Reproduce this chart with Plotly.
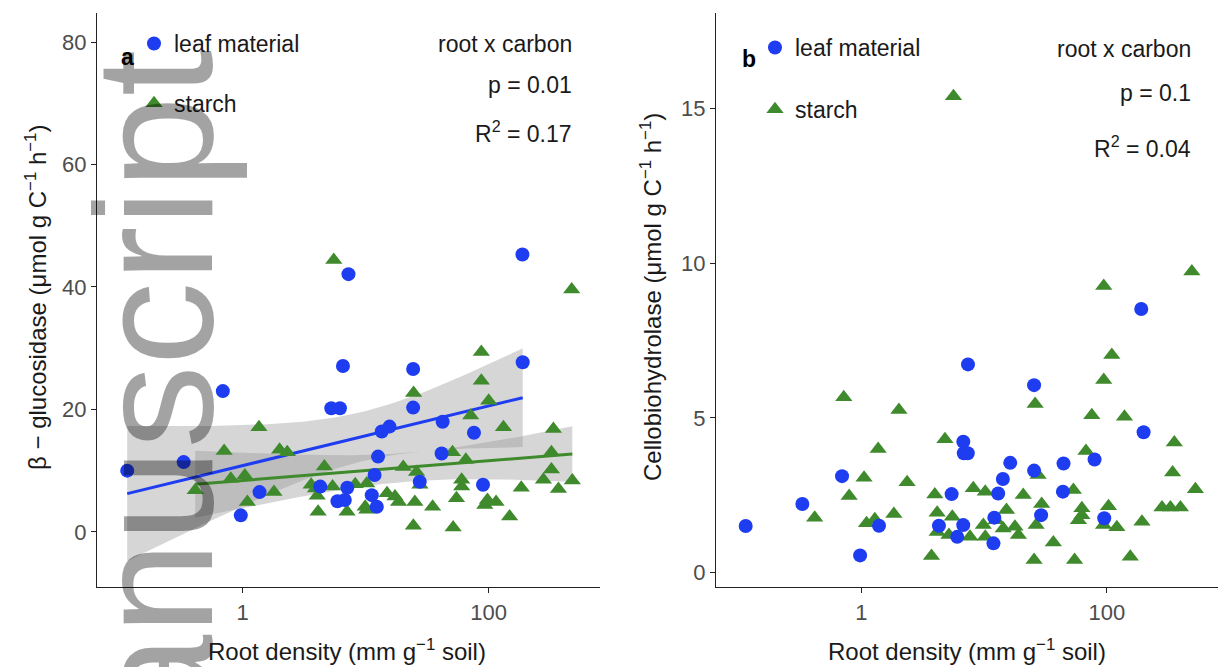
import numpy as np
import plotly.graph_objects as go

# ---------------- data ----------------
# Panel a: beta-glucosidase vs root density
A_LEAF_X = [0.115, 0.331, 0.689, 0.964, 1.37, 6.53, 5.25, 6.17, 4.27, 5.89, 6.76, 7.08,
            24.3, 189, 24.3, 13.5, 15.6, 42.2, 75.9, 12.6, 41.4, 11.8, 27.5, 89.9,
            11.2, 12.3, 188, 7.24]
A_LEAF_Y = [10.0, 11.4, 23.0, 2.7, 6.5, 27.1, 20.2, 20.2, 7.4, 5.0, 5.2, 7.2,
            26.6, 27.7, 20.3, 16.4, 17.2, 18.0, 16.2, 12.3, 12.8, 9.3, 8.2, 7.7,
            6.0, 4.1, 45.3, 42.1]
A_STARCH_X = [1.355, 0.706, 1.995, 2.30, 0.80, 1.04, 0.411, 1.09, 1.795, 4.61, 3.60, 3.90,
              5.38, 4.03, 4.10, 7.05, 87.1, 87.1, 24.5, 100, 71.4, 131.8, 335.7, 323.6,
              50.8, 65.2, 323.6, 278.6, 478.6, 369, 184, 60.3, 60.3, 20.2, 25.9, 27.6,
              10.2, 8.22, 14.9, 17.3, 18.5, 25.1, 35.0, 54.7, 92.9, 114.8, 97.7, 147.9,
              24.4, 51.4, 9.9, 10.2, 5.50, 473]
A_STARCH_Y = [17.1, 13.2, 13.4, 13.0, 8.7, 9.2, 6.8, 4.9, 6.5, 10.7, 7.7, 7.1,
              7.4, 5.9, 3.3, 3.3, 29.4, 24.7, 22.7, 21.4, 19.0, 17.1, 16.8, 13.0,
              13.0, 11.8, 10.2, 8.5, 8.4, 7.0, 7.2, 8.5, 7.4, 10.6, 9.8, 7.7,
              7.9, 7.8, 6.3, 5.8, 4.9, 4.9, 4.1, 5.5, 4.4, 4.9, 5.2, 2.5,
              1.0, 0.7, 4.1, 3.6, 44.4, 39.6]

# Panel b: cellobiohydrolase vs root density
B_LEAF_X = [0.114, 0.330, 0.695, 0.975, 1.39, 5.43, 4.28, 6.03, 6.75, 6.76, 6.82, 7.35,
            7.38, 25.5, 199, 16.3, 25.5, 44.3, 79.3, 14.2, 13.0, 43.8, 29.1, 95.1,
            12.1, 11.9, 190.5]
B_LEAF_Y = [1.51, 2.22, 3.12, 0.56, 1.52, 2.54, 1.52, 1.16, 1.54, 4.23, 3.86, 3.86,
            6.73, 6.06, 4.54, 3.55, 3.30, 3.53, 3.66, 3.03, 2.56, 2.62, 1.86, 1.76,
            1.78, 0.95, 8.52]
B_STARCH_X = [0.718, 2.02, 1.368, 1.05, 0.794, 0.416, 1.10, 1.285, 1.837, 2.355, 4.79, 3.96,
              4.14, 5.50, 4.14, 5.16, 3.72, 94.2, 109.6, 26.0, 75.3, 139, 354, 67.5,
              343, 526, 281, 329, 397, 193, 155, 103, 120.5, 93.8, 62.5, 62.5,
              58.6, 53.3, 54.5, 36.6, 25.5, 29.4, 26.5, 20.8, 15.2, 17.8, 19.0, 14.3,
              10.2, 8.15, 9.84, 10.2, 7.66, 12.5, 5.62, 94.2, 492, 27.5]
B_STARCH_Y = [5.67, 5.26, 4.00, 3.07, 2.48, 1.78, 1.60, 1.73, 1.90, 2.92, 4.31, 2.53,
              1.94, 1.81, 1.32, 1.22, 0.54, 6.23, 7.03, 5.45, 5.09, 5.04, 4.21, 3.93,
              3.24, 2.70, 2.11, 2.11, 2.11, 1.65, 0.52, 2.15, 1.47, 1.54, 2.08, 1.86,
              1.70, 2.67, 0.41, 0.98, 0.41, 2.22, 1.54, 2.51, 2.03, 1.49, 1.22, 1.43,
              2.62, 2.73, 1.54, 1.16, 1.16, 1.70, 15.39, 9.26, 9.73, 3.16]

X_TICKS = [1, 100]
X_TICK_TEXT = ["1", "100"]
A_Y_TICKS = [0, 20, 40, 60, 80]
B_Y_TICKS = [0, 5, 10, 15]
STATS_A = ["root x carbon", "p = 0.01", "R<sup>2</sup> = 0.17"]
STATS_B = ["root x carbon", "p = 0.1", "R<sup>2</sup> = 0.04"]

# ---------------- styles ----------------
FONT = "Liberation Sans, Arial, Helvetica, sans-serif"
BLUE = "#1e3cf0"
GREEN = "#3f8a2c"
BAND = "rgba(153,153,153,0.4)"
TXT = "#1a1a1a"
TICK_TXT = "#4d4d4d"
W, H = 1221, 667


def t975(df):
    z = 1.959964
    g1 = (z ** 3 + z) / 4
    g2 = (5 * z ** 5 + 16 * z ** 3 + 3 * z) / 96
    g3 = (3 * z ** 7 + 19 * z ** 5 + 17 * z ** 3 - 15 * z) / 384
    return z + g1 / df + g2 / df ** 2 + g3 / df ** 3


def lm_band(x, y, n=100):
    lx = np.log10(np.asarray(x, float))
    y = np.asarray(y, float)
    b, a = np.polyfit(lx, y, 1)
    resid = y - (a + b * lx)
    k = len(lx)
    s = np.sqrt(np.sum(resid ** 2) / (k - 2))
    mx = lx.mean()
    sxx = np.sum((lx - mx) ** 2)
    g = np.linspace(lx.min(), lx.max(), n)
    fit = a + b * g
    se = s * np.sqrt(1.0 / k + (g - mx) ** 2 / sxx)
    t = t975(k - 2)
    return 10 ** g, fit, fit - t * se, fit + t * se


fig = go.Figure()

# confidence bands (panel a)
fits = []
for xs, ys, col in [(A_LEAF_X, A_LEAF_Y, BLUE), (A_STARCH_X, A_STARCH_Y, GREEN)]:
    gx, fit, lo, hi = lm_band(xs, ys)
    fits.append((gx, fit, col))
    fig.add_trace(go.Scatter(
        x=np.concatenate([gx, gx[::-1]]), y=np.concatenate([hi, lo[::-1]]),
        fill="toself", fillcolor=BAND, line=dict(width=0), mode="lines",
        hoverinfo="skip", showlegend=False, xaxis="x", yaxis="y"))
for gx, fit, col in fits:
    fig.add_trace(go.Scatter(x=gx, y=fit, mode="lines", line=dict(color=col, width=3),
                             hoverinfo="skip", showlegend=False, xaxis="x", yaxis="y"))

# points
for xs, ys, xa, ya, lg in [(A_STARCH_X, A_STARCH_Y, "x", "y", "legend"),
                           (B_STARCH_X, B_STARCH_Y, "x2", "y2", "legend2")]:
    fig.add_trace(go.Scatter(x=xs, y=ys, mode="markers", name="starch",
                             marker=dict(symbol="triangle-up", size=15, color=GREEN),
                             legend=lg, legendgroup=lg + "s", legendrank=2,
                             xaxis=xa, yaxis=ya))
for xs, ys, xa, ya, lg in [(A_LEAF_X, A_LEAF_Y, "x", "y", "legend"),
                           (B_LEAF_X, B_LEAF_Y, "x2", "y2", "legend2")]:
    fig.add_trace(go.Scatter(x=xs, y=ys, mode="markers", name="leaf material",
                             marker=dict(symbol="circle", size=14, color=BLUE),
                             legend=lg, legendgroup=lg + "l", legendrank=1,
                             xaxis=xa, yaxis=ya))

axis_common = dict(showline=True, linecolor="#222222", linewidth=1.4, ticks="outside",
                   ticklen=5, tickwidth=1.3, tickcolor="#222222", showgrid=False,
                   zeroline=False, tickfont=dict(size=22, color=TICK_TXT, family=FONT),
                   automargin=False, mirror=False)

yb0, yb1 = (H - 587) / H, (H - 12.7) / H

fig.update_layout(
    width=W, height=H, autosize=False,
    margin=dict(l=0, r=0, t=0, b=0),
    paper_bgcolor="white", plot_bgcolor="rgba(0,0,0,0)",
    font=dict(family=FONT, color=TXT),
    template="none",
    xaxis=dict(domain=[97 / W, 600 / W], type="log", range=[-1.185, 2.905],
               tickvals=X_TICKS, ticktext=X_TICK_TEXT, anchor="y", **axis_common),
    yaxis=dict(domain=[yb0, yb1], range=[-9.0, 84.8], tickvals=A_Y_TICKS,
               anchor="x", **axis_common),
    xaxis2=dict(domain=[716 / W, 1218 / W], type="log", range=[-1.185, 2.905],
                tickvals=X_TICKS, ticktext=X_TICK_TEXT, anchor="y2", **axis_common),
    yaxis2=dict(domain=[yb0, yb1], range=[-0.46, 18.09], tickvals=B_Y_TICKS,
                anchor="x2", **axis_common),
    legend=dict(x=134 / W, y=1 - 22 / H, xanchor="left", yanchor="top",
                bgcolor="rgba(0,0,0,0)", font=dict(size=23, color=TXT, family=FONT),
                tracegroupgap=27, itemsizing="trace", traceorder="grouped"),
    legend2=dict(x=755 / W, y=1 - 26 / H, xanchor="left", yanchor="top",
                 bgcolor="rgba(0,0,0,0)", font=dict(size=23, color=TXT, family=FONT),
                 tracegroupgap=29, itemsizing="trace", traceorder="grouped"),
)

TITLE_SIZE = 24
ann = []
# watermark
ann.append(dict(text="manuscript", x=153 / W, y=1 - 458.5 / H, xref="paper", yref="paper",
                showarrow=False, textangle=-90, xanchor="center", yanchor="middle",
                font=dict(size=167, family=FONT, color="rgba(0,0,0,0.36)")))
# axis titles
ann.append(dict(text="Root density (mm g<sup>\u22121</sup> soil)", x=347 / W, y=1 - 650 / H,
                xref="paper", yref="paper", showarrow=False, xanchor="center", yanchor="middle",
                font=dict(size=TITLE_SIZE, color=TXT)))
ann.append(dict(text="Root density (mm g<sup>\u22121</sup> soil)", x=967 / W, y=1 - 650 / H,
                xref="paper", yref="paper", showarrow=False, xanchor="center", yanchor="middle",
                font=dict(size=TITLE_SIZE, color=TXT)))
ann.append(dict(text="\u03b2 \u2212 glucosidase (\u03bcmol g C<sup>\u22121</sup> h<sup>\u22121</sup>)",
                x=36 / W, y=1 - 298 / H, xref="paper", yref="paper", showarrow=False,
                textangle=-90, xanchor="center", yanchor="middle",
                font=dict(size=TITLE_SIZE, color=TXT)))
ann.append(dict(text="Cellobiohydrolase (\u03bcmol g C<sup>\u22121</sup> h<sup>\u22121</sup>)",
                x=651 / W, y=1 - 297 / H, xref="paper", yref="paper", showarrow=False,
                textangle=-90, xanchor="center", yanchor="middle",
                font=dict(size=TITLE_SIZE, color=TXT)))
# panel letters
ann.append(dict(text="<b>a</b>", x=-0.94, y=77.6, xref="x", yref="y", showarrow=False,
                font=dict(size=23, color="black")))
ann.append(dict(text="<b>b</b>", x=-0.92, y=16.6, xref="x2", yref="y2", showarrow=False,
                font=dict(size=23, color="black")))
# stats
for txt, yv in zip(STATS_A, [79.7, 73.0, 65.3]):
    ann.append(dict(text=txt, x=2.69, y=yv, xref="x", yref="y", showarrow=False,
                    xanchor="right", yanchor="middle", font=dict(size=23, color=TXT)))
for txt, yv in zip(STATS_B, [16.92, 15.5, 13.75]):
    ann.append(dict(text=txt, x=2.704, y=yv, xref="x2", yref="y2", showarrow=False,
                    xanchor="right", yanchor="middle", font=dict(size=23, color=TXT)))
fig.update_layout(annotations=ann)

fig.write_html("out.html", config={"displayModeBar": False},
               post_script="document.body.style.margin='0px';document.body.style.overflow='hidden';")
